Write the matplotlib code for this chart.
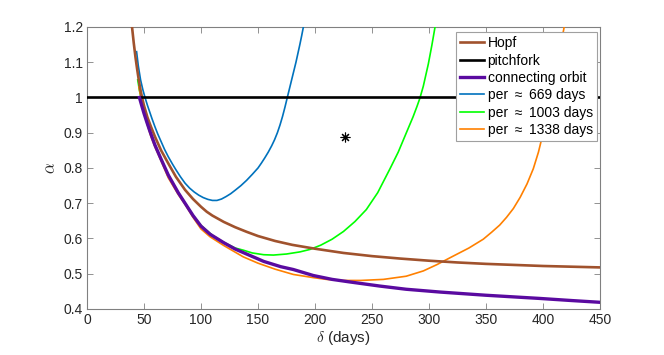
import matplotlib
matplotlib.use("Agg")
import matplotlib.pyplot as plt

plt.rcParams['font.family'] = ['Liberation Sans', 'DejaVu Sans']
plt.rcParams['mathtext.fontset'] = 'cm'

# ---- data ----
hopf_d = [39.5, 41, 42.5, 44, 45.5, 47, 48.5, 50, 53, 56, 59.6, 65, 71.3, 78, 86, 93,
          100, 105, 110, 115, 120, 130, 140, 150, 165, 180, 200, 225, 250, 275, 300,
          325, 350, 375, 400, 425, 450]
hopf_a = [1.20, 1.155, 1.115, 1.08, 1.048, 1.02, 0.997, 0.977, 0.944, 0.918, 0.889,
          0.850, 0.813, 0.775, 0.738, 0.712, 0.690, 0.676, 0.665, 0.656, 0.647, 0.632,
          0.619, 0.607, 0.593, 0.582, 0.571, 0.559, 0.550, 0.543, 0.537, 0.532, 0.528,
          0.525, 0.522, 0.520, 0.518]

pitch_d = [0, 450]
pitch_a = [1.0, 1.0]

conn_d = [46, 48, 50, 52.5, 55, 57, 59.6, 65, 71.3, 80, 86, 93, 100, 108, 120, 130,
          140, 155, 170, 181, 198.5, 215, 230, 257, 280, 310, 350, 397, 425, 450]
conn_a = [1.0, 0.977, 0.955, 0.93, 0.906, 0.888, 0.865, 0.825, 0.780, 0.730, 0.700,
          0.665, 0.635, 0.612, 0.588, 0.570, 0.556, 0.535, 0.520, 0.512, 0.495, 0.484,
          0.477, 0.465, 0.456, 0.448, 0.439, 0.430, 0.424, 0.419]

p669_d = [43.5, 45, 47, 49, 50.9, 53, 55, 57, 59.6, 62, 65, 68, 71.3, 75, 78, 82, 86,
          90, 94, 98, 102, 106, 110, 114, 118, 122, 126, 130, 135, 140, 145, 150, 153,
          156, 159, 162, 164.5, 167, 169.3, 171.5, 173.6, 175.7, 177.6, 179.5, 181.4,
          183.3, 185, 186.7, 188.3, 189.8]
p669_a = [1.13, 1.09, 1.05, 1.022, 1.0, 0.978, 0.959, 0.94, 0.917, 0.897, 0.875, 0.853,
          0.832, 0.811, 0.795, 0.775, 0.757, 0.743, 0.732, 0.723, 0.716, 0.711, 0.708,
          0.708, 0.712, 0.719, 0.727, 0.737, 0.750, 0.765, 0.782, 0.800, 0.814, 0.829,
          0.845, 0.863, 0.880, 0.900, 0.922, 0.946, 0.972, 1.0, 1.025, 1.05, 1.075,
          1.10, 1.125, 1.15, 1.175, 1.2]

p1003_d = [44.5, 46, 48, 50, 53, 56, 59.6, 65, 71.3, 80, 86, 93, 100, 110, 120, 130,
           137, 145, 155, 163.5, 175, 186.8, 195.6, 205, 215, 225, 235, 245, 255,
           265.8, 273, 280.4, 286, 289.5, 292, 295, 299.4, 302.5, 305.3]
p1003_a = [1.05, 1.02, 0.99, 0.962, 0.925, 0.895, 0.866, 0.826, 0.781, 0.731, 0.701,
           0.666, 0.637, 0.609, 0.589, 0.573, 0.567, 0.559, 0.554, 0.553, 0.556, 0.562,
           0.569, 0.581, 0.598, 0.620, 0.648, 0.682, 0.730, 0.798, 0.845, 0.902, 0.945,
           0.975, 0.998, 1.032, 1.095, 1.148, 1.2]

p1338_d = [45.5, 48, 50, 53, 56, 59.6, 65, 71.3, 80, 86, 93, 100, 107.9, 120, 137, 150,
           165, 181, 198.5, 210, 225, 240, 260, 280, 295, 307, 320, 335, 347.6, 355,
           362, 368, 374, 380, 386, 391.5, 396, 400.3, 406, 410, 414, 418, 420.8]
p1338_a = [1.03, 0.99, 0.96, 0.922, 0.89, 0.860, 0.820, 0.772, 0.725, 0.697, 0.660,
           0.627, 0.605, 0.580, 0.548, 0.530, 0.513, 0.498, 0.489, 0.484, 0.481, 0.481,
           0.484, 0.493, 0.508, 0.526, 0.548, 0.573, 0.598, 0.618, 0.638, 0.660, 0.685,
           0.717, 0.755, 0.798, 0.845, 0.902, 0.997, 1.06, 1.125, 1.19, 1.24]

star_d = [226.3]
star_a = [0.888]

xticks = [0, 50, 100, 150, 200, 250, 300, 350, 400, 450]
yticks = [0.4, 0.5, 0.6, 0.7, 0.8, 0.9, 1.0, 1.1, 1.2]
ytick_labels = ['0.4', '0.5', '0.6', '0.7', '0.8', '0.9', '1', '1.1', '1.2']

# ---- figure ----
fig = plt.figure(figsize=(6.64, 3.55), dpi=100)
ax = fig.add_axes([87/664, 46/355, 513/664, 282/355])

c_brown = '#A0522D'
c_purple = '#5A0AA0'
c_blue = '#0072BD'
c_green = '#00FF00'
c_orange = '#FF8000'

ax.plot(p669_d, p669_a, color=c_blue, lw=1.2, zorder=3, label='per ≈ 669 days')
ax.plot(p1003_d, p1003_a, color=c_green, lw=1.2, zorder=3, label='per ≈ 1003 days')
ax.plot(p1338_d, p1338_a, color=c_orange, lw=1.2, zorder=3, label='per ≈ 1338 days')
ax.plot(hopf_d, hopf_a, color=c_brown, lw=1.9, zorder=4, label='Hopf')
ax.plot(pitch_d, pitch_a, color='black', lw=1.9, zorder=4, label='pitchfork')
ax.plot(conn_d, conn_a, color=c_purple, lw=2.4, zorder=5, label='connecting orbit')
ax.plot(star_d, star_a, linestyle='none', marker=(8, 2, 0), color='black',
        markersize=7, markeredgewidth=0.8, zorder=6)

ax.set_xlim(0, 450)
ax.set_ylim(0.4, 1.2)
ax.set_xticks(xticks)
ax.set_yticks(yticks)
ax.set_yticklabels(ytick_labels)

axc = '#262626'
for s in ax.spines.values():
    s.set_color('#808080')
    s.set_linewidth(0.8)
ax.tick_params(direction='in', length=4, width=0.6, colors='#808080',
               labelcolor=axc, labelsize=10, top=True, right=True, pad=3)

ax.set_xlabel(r'$\delta$ (days)', fontsize=11, color=axc, labelpad=1)
ax.set_ylabel(r'$\alpha$', fontsize=12, color=axc, labelpad=4)

handles, labels = ax.get_legend_handles_labels()
order = ['Hopf', 'pitchfork', 'connecting orbit', 'per \u2009≈\u2009 669 days',
         'per \u2009≈\u2009 1003 days', 'per \u2009≈\u2009 1338 days']
src = ['Hopf', 'pitchfork', 'connecting orbit', 'per ≈ 669 days',
       'per ≈ 1003 days', 'per ≈ 1338 days']
hmap = dict(zip(labels, handles))
leg = ax.legend([hmap[k] for k in src], order, loc='upper right',
                bbox_to_anchor=(0.994, 0.982), borderaxespad=0, fontsize=10,
                frameon=True, fancybox=False, edgecolor='#a0a0a0', framealpha=1,
                handlelength=1.75, handletextpad=0.25, labelspacing=0.24,
                borderpad=0.3)
leg.get_frame().set_linewidth(0.8)
for t in leg.get_texts():
    t.set_color('black')

fig.savefig('out.png', dpi=100)
